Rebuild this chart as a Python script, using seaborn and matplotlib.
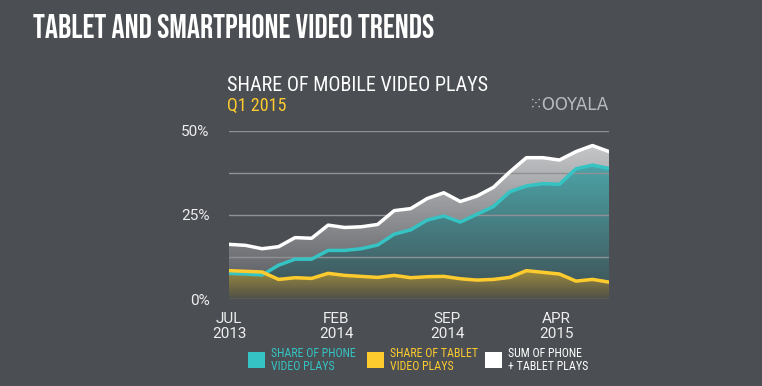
import numpy as np
import pandas as pd
import matplotlib
matplotlib.use("Agg")
import matplotlib.pyplot as plt
from matplotlib.colors import LinearSegmentedColormap
from matplotlib.patches import Rectangle
import seaborn as sns

# monthly points, Jul 2013 onward
phone = [7.7, 7.5, 7.2, 10.1, 11.9, 11.9, 14.5, 14.5, 15.0, 16.1, 19.3, 20.6,
         23.5, 24.7, 22.9, 25.2, 27.5, 31.9, 33.6, 34.3, 34.1, 38.7, 39.8, 38.8]
tablet = [8.5, 8.3, 8.1, 5.9, 6.4, 6.2, 7.7, 7.1, 6.8, 6.5, 7.1, 6.4,
          6.7, 6.8, 6.1, 5.7, 5.9, 6.5, 8.5, 8.0, 7.5, 5.4, 5.9, 5.1]
total = [16.3, 16.0, 15.0, 15.6, 18.3, 18.1, 22.0, 21.3, 21.5, 22.2, 26.3, 26.9,
         29.9, 31.6, 29.0, 30.6, 33.2, 37.8, 42.0, 42.0, 41.3, 43.8, 45.6, 43.8]
tick_pos = [0, 6.5, 13.2, 19.8]
tick_labels = ["JUL\n2013", "FEB\n2014", "SEP\n2014", "APR\n2015"]

BG = "#4b4e53"
TEAL = "#35c3c3"
YELLOW = "#fdcb2e"
WHITE = "#ffffff"

idx = np.arange(len(phone))
df = pd.DataFrame({
    "idx": np.tile(idx, 3),
    "share": total + phone + tablet,
    "series": ["sum"] * len(idx) + ["phone"] * len(idx) + ["tablet"] * len(idx),
})

sns.set_style("dark")
plt.rcParams["font.family"] = ["Roboto", "DejaVu Sans"]

fig = plt.figure(figsize=(7.62, 3.86), dpi=100, facecolor=BG)
ax = fig.add_axes([229 / 762, 1 - 299.3 / 386, 380 / 762, 168.6 / 386])
ax.set_facecolor(BG)


def gradient_fill(y, top, bottom, z):
    poly = ax.fill_between(idx, 0, y, facecolor="none", edgecolor="none")
    cmap = LinearSegmentedColormap.from_list("g", [bottom, top])
    grad = np.linspace(0, 1, 256).reshape(-1, 1)
    im = ax.imshow(grad, aspect="auto", origin="lower", cmap=cmap,
                   extent=[0, len(y) - 1, 0, max(y)], zorder=z)
    im.set_clip_path(poly.get_paths()[0], transform=ax.transData)


gradient_fill(total, "#c6c7c9", "#505358", 1)
gradient_fill(phone, "#4ca4a7", "#3e4f54", 1.1)
gradient_fill(tablet, "#9c8a3e", "#4f5049", 1.2)

sns.lineplot(data=df, x="idx", y="share", hue="series",
             palette={"sum": WHITE, "phone": TEAL, "tablet": YELLOW},
             linewidth=2.5, legend=False, ax=ax, zorder=4)

ax.set_xlim(0, len(idx) - 1)
ax.set_ylim(0, 50)
ax.set_yticks([0, 12.5, 25, 37.5, 50])
ax.set_yticklabels(["0%", "", "25%", "", "50%"])
ax.set_xticks(tick_pos)
ax.set_xticklabels(tick_labels, linespacing=1.15)
ax.set_xlabel("")
ax.set_ylabel("")
ax.set_axisbelow(False)
ax.grid(axis="y", color="#8f9195", linewidth=1)
ax.grid(axis="x", visible=False)
ax.tick_params(axis="y", length=0, pad=14, labelsize=11, labelcolor="#eeeeee")
ax.tick_params(axis="x", length=0, pad=9, labelsize=11, labelcolor="#eeeeee")
for s in ax.spines.values():
    s.set_visible(False)

cond = ["Roboto Condensed", "DejaVu Sans"]
fig.text(33 / 762, 1 - 38 / 386, "TABLET AND SMARTPHONE VIDEO TRENDS", color=WHITE,
         fontsize=23.5, family=["Bebas Neue", "DejaVu Sans"], va="baseline")
fig.text(227 / 762, 1 - 91 / 386, "SHARE OF MOBILE VIDEO PLAYS", color=WHITE,
         fontsize=14.5, family=cond, va="baseline")
fig.text(227 / 762, 1 - 111 / 386, "Q1 2015", color=YELLOW,
         fontsize=13, family=cond, va="baseline")
fig.text(608 / 762, 1 - 110 / 386, "⁙OOYALA", color="#b9bbbe",
         fontsize=12, ha="right", va="baseline", family=["DejaVu Sans"])

legend_items = [(248, TEAL, "SHARE OF PHONE\nVIDEO PLAYS"),
                (367, YELLOW, "SHARE OF TABLET\nVIDEO PLAYS"),
                (485, WHITE, "SUM OF PHONE\n+ TABLET PLAYS")]
for x0, c, label in legend_items:
    fig.patches.append(Rectangle((x0 / 762, 1 - 368 / 386), 17 / 762, 16 / 386,
                                 transform=fig.transFigure, facecolor=c, edgecolor="none"))
    fig.text((x0 + 23) / 762, 1 - 360 / 386, label, color=c, fontsize=8.6,
             family=cond, va="center", linespacing=1.0)

fig.savefig("out.png", dpi=100, facecolor=BG)
